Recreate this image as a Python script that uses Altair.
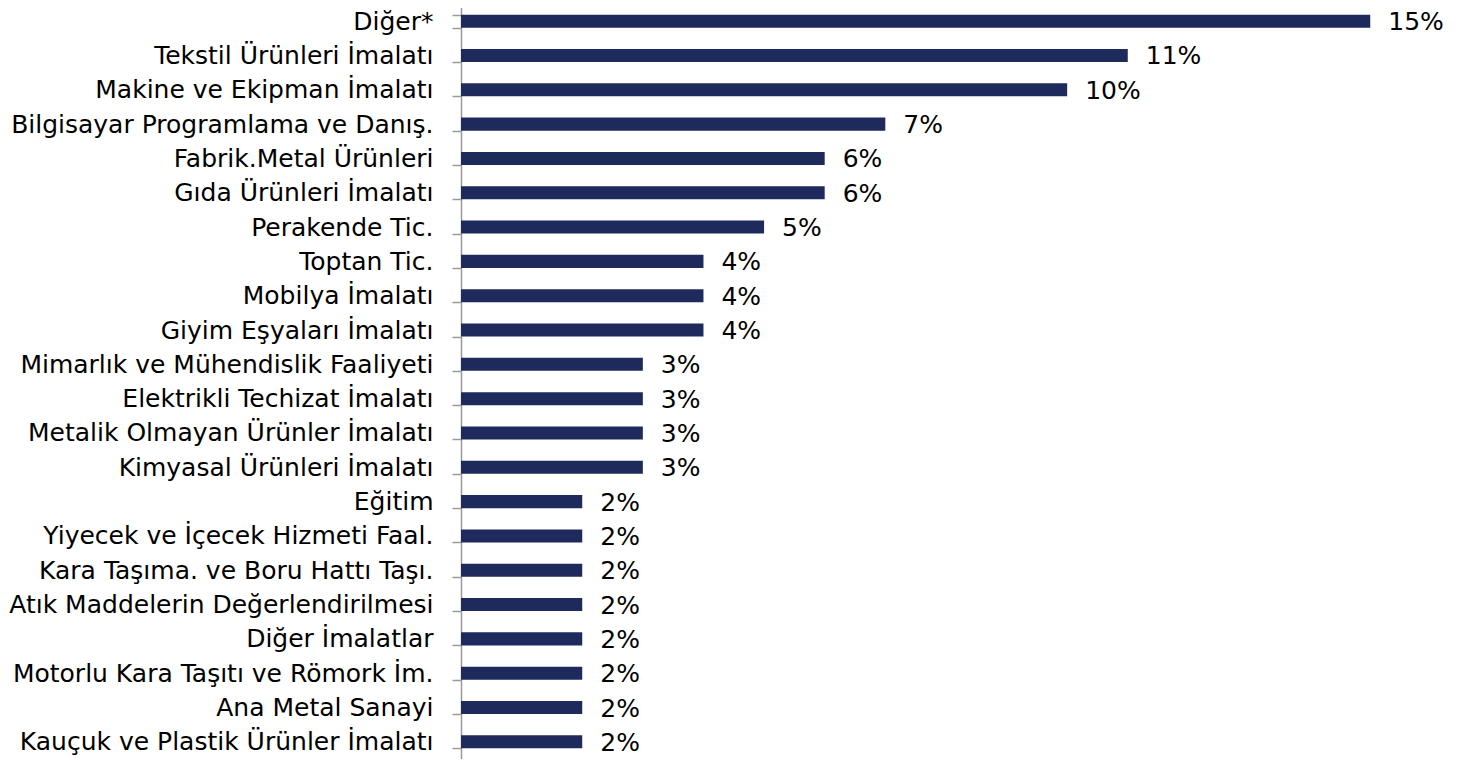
import altair as alt
import pandas as pd

categories = [
    "Diğer*",
    "Tekstil Ürünleri İmalatı",
    "Makine ve Ekipman İmalatı",
    "Bilgisayar Programlama ve Danış.",
    "Fabrik.Metal Ürünleri",
    "Gıda Ürünleri İmalatı",
    "Perakende Tic.",
    "Toptan Tic.",
    "Mobilya İmalatı",
    "Giyim Eşyaları İmalatı",
    "Mimarlık ve Mühendislik Faaliyeti",
    "Elektrikli Techizat İmalatı",
    "Metalik Olmayan Ürünler İmalatı",
    "Kimyasal Ürünleri İmalatı",
    "Eğitim",
    "Yiyecek ve İçecek Hizmeti Faal.",
    "Kara Taşıma. ve Boru Hattı Taşı.",
    "Atık Maddelerin Değerlendirilmesi",
    "Diğer İmalatlar",
    "Motorlu Kara Taşıtı ve Römork İm.",
    "Ana Metal Sanayi",
    "Kauçuk ve Plastik Ürünler İmalatı",
]
values = [15, 11, 10, 7, 6, 6, 5, 4, 4, 4, 3, 3, 3, 3, 2, 2, 2, 2, 2, 2, 2, 2]

df = pd.DataFrame({"cat": categories, "val": values})
df["label"] = df["val"].astype(str) + "%"

FONT = "DejaVu Sans"
BAR = "#1F2A5C"

y = alt.Y(
    "cat:N",
    sort=None,
    title=None,
    scale=alt.Scale(paddingInner=0.62, paddingOuter=0.31),
    axis=alt.Axis(
        orient="left",
        domainColor="#9A9A9A",
        domainWidth=1.5,
        tickColor="#9A9A9A",
        tickWidth=1.5,
        tickSize=9,
        tickBand="extent",
        tickExtra=True,
        tickOffset=10.7,
        labelPadding=19,
        labelFont=FONT,
        labelFontSize=25,
        labelColor="#000000",
        labelLimit=700,
    ),
)
x = alt.X(
    "val:Q",
    title=None,
    scale=alt.Scale(domain=[0, 16.25], nice=False, zero=True),
    axis=None,
)

base = alt.Chart(df).encode(y=y, x=x)
bars = base.mark_bar(color=BAR)
text = base.mark_text(
    align="left", baseline="middle", dx=18, dy=1, font=FONT, fontSize=25, color="#000000"
).encode(text="label:N")

chart = (
    alt.layer(bars, text)
    .properties(width=985, height=755, padding={"top": -16, "left": 0, "right": 0, "bottom": 0})
    .configure(background="white", view=alt.ViewConfig(stroke=None))
)

chart.save("out.html", embed_options={"renderer": "svg", "actions": False})
